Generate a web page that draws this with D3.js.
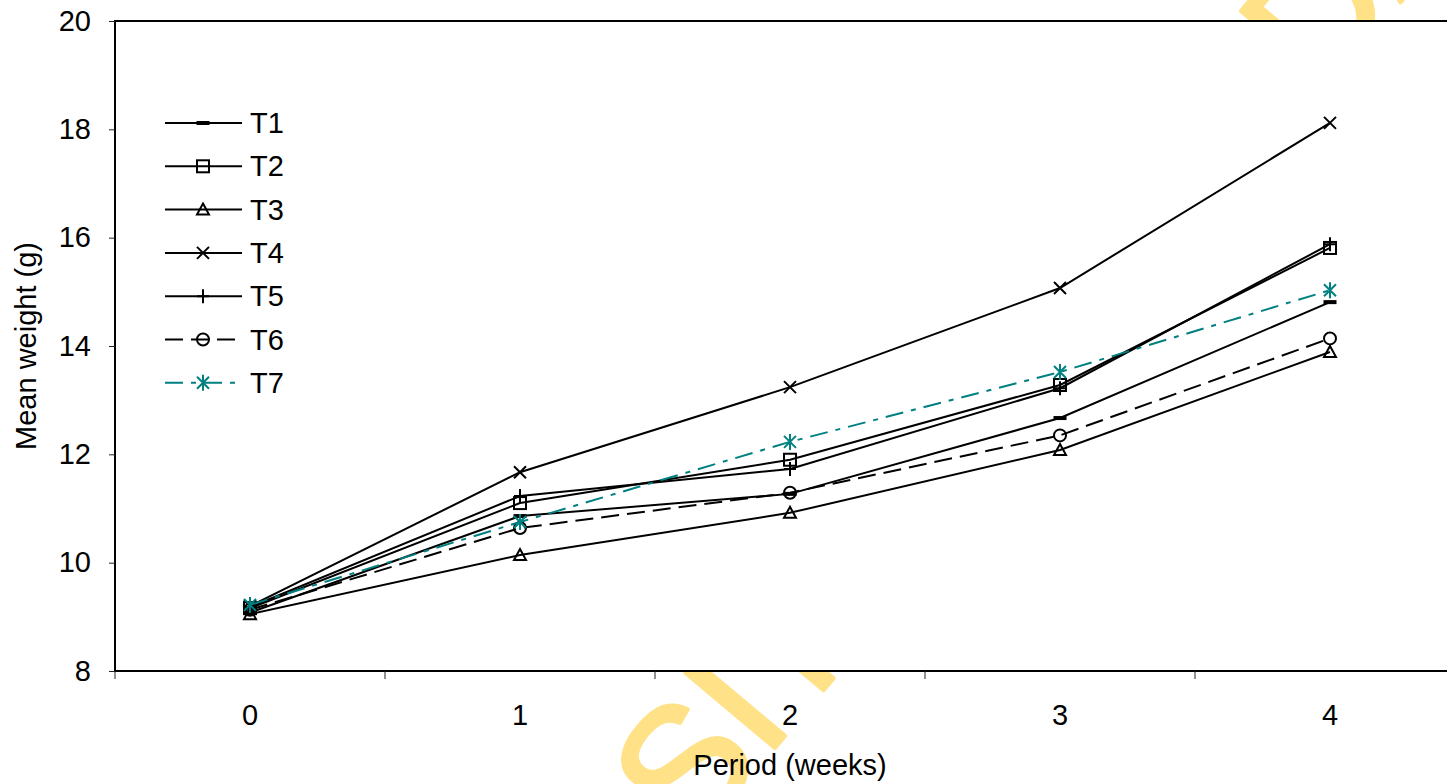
<!DOCTYPE html>
<html>
<head>
<meta charset="utf-8">
<script src="https://cdn.jsdelivr.net/npm/d3@7"></script>
<style>
	body { margin: 0; background: #fff; }
	text { font-family: "Liberation Sans", Arial, sans-serif; }
</style>
</head>
<body>
<svg id="chart" width="1447" height="784"></svg>
<script>

// weeks on the x axis and the mean weight (g) per treatment
var weeks = ["0", "1", "2", "3", "4"];
var seriesNames = ["T1", "T2", "T3", "T4", "T5", "T6", "T7"];
var t1 = [9.08, 10.86, 11.27, 12.67, 14.81];
var t2 = [9.16, 11.10, 11.90, 13.28, 15.81];
var t3 = [9.05, 10.14, 10.92, 12.08, 13.89];
var t4 = [9.20, 11.67, 13.24, 15.07, 18.12];
var t5 = [9.18, 11.23, 11.73, 13.22, 15.88];
var t6 = [9.13, 10.64, 11.29, 12.35, 14.14];
var t7 = [9.22, 10.75, 12.23, 13.52, 15.03];
var yTicks = [8, 10, 12, 14, 16, 18, 20];
var watermarkText = "UNIVERSITY OF IBADAN LIBRARY";

var allSeries = [t1, t2, t3, t4, t5, t6, t7];
var markerTypes = ["dash", "square", "triangle", "cross", "plus", "circle", "star"];
var colours = ["#000", "#000", "#000", "#000", "#000", "#000", "#008080"];
var dashes = [null, null, null, null, null, "18,8", "18,8,5,8"];

var svg = d3.select("#chart");
var fontSize = 29;

var x = d3.scaleBand().domain(weeks).range([115, 1465]);
var y = d3.scaleLinear().domain([8, 20]).range([671, 21]);


// watermark sits behind the white plot area
var wm = svg.append("text")
			.text(watermarkText)
			.attr("font-size", 170)
			.attr("fill", "#FFE187")
			.attr("stroke", "#FFE187")
			.attr("stroke-width", 4)
			.attr("stroke-linejoin", "round");

var wmNode = wm.node();
var cStart = wmNode.getStartPositionOfChar(7);
var cEnd = wmNode.getEndPositionOfChar(7);
var cMid = (cStart.x + cEnd.x) / 2;
wm.attr("transform", "translate(780,742) rotate(-50) translate(" + (-cMid) + ",0)");


// plot area
svg.append("rect")
	.attr("x", x.range()[0])
	.attr("y", y(20))
	.attr("width", x.range()[1] - x.range()[0])
	.attr("height", y(8) - y(20))
	.attr("fill", "#fff")
	.attr("stroke", "#000")
	.attr("stroke-width", 2);


// y axis
var yAxis = svg.append("g")
				.attr("transform", "translate(" + x.range()[0] + ",0)")
				.call(d3.axisLeft(y).tickValues(yTicks).tickSize(6).tickPadding(18));

yAxis.select(".domain").remove();
yAxis.selectAll("line").attr("stroke", "#222");
yAxis.selectAll("text")
	.attr("font-size", fontSize)
	.attr("font-family", "Liberation Sans, Arial, sans-serif")
	.attr("fill", "#000");


// x axis, labels in the middle of each band
var xAxis = svg.append("g")
				.attr("transform", "translate(0," + y(8) + ")")
				.call(d3.axisBottom(x).tickSize(0).tickPadding(33));

xAxis.select(".domain").remove();
xAxis.selectAll("text")
	.attr("font-size", fontSize)
	.attr("font-family", "Liberation Sans, Arial, sans-serif")
	.attr("fill", "#000");

// tick marks between the bands
svg.append("g")
	.selectAll("line")
	.data(weeks)
	.enter().append("line")
	.attr("x1", function(d) { return x(d); })
	.attr("x2", function(d) { return x(d); })
	.attr("y1", y(8))
	.attr("y2", y(8) + 8)
	.attr("stroke", "#222")
	.attr("stroke-width", 1);


// axis titles
svg.append("text")
	.attr("transform", "translate(36," + ((y(8) + y(20)) / 2) + ") rotate(-90)")
	.attr("text-anchor", "middle")
	.attr("font-size", fontSize)
	.text("Mean weight (g)");

svg.append("text")
	.attr("x", 790)
	.attr("y", 775)
	.attr("text-anchor", "middle")
	.attr("font-size", fontSize)
	.text("Period (weeks)");


function drawMarker(g, type, colour) {

	if (type == "dash") {
		g.append("rect")
			.attr("x", -6.5).attr("y", -2)
			.attr("width", 13).attr("height", 4)
			.attr("fill", colour);
		return;
	}

	var m = g.append("g")
				.attr("fill", "none")
				.attr("stroke", colour)
				.attr("stroke-width", 2);

	if (type == "square") {
		m.append("rect").attr("x", -6).attr("y", -6).attr("width", 12).attr("height", 12);
	}
	else if (type == "triangle") {
		m.append("path").attr("d", "M0,-6L6,5L-6,5Z");
	}
	else if (type == "cross") {
		m.append("path").attr("d", "M-6,-6L6,6M-6,6L6,-6");
	}
	else if (type == "plus") {
		m.append("path").attr("d", "M0,-7L0,7M-6,0L6,0");
	}
	else if (type == "circle") {
		m.append("circle").attr("r", 6);
	}
	else if (type == "star") {
		m.append("path").attr("d", "M-6,-6L6,6M-6,6L6,-6M0,-8L0,8");
	}
}


// series lines and markers
var line = d3.line()
			.x(function(d, i) { return x(weeks[i]) + x.bandwidth() / 2; })
			.y(function(d) { return y(d); });

allSeries.forEach(function(values, s) {

	svg.append("path")
		.datum(values)
		.attr("d", line)
		.attr("fill", "none")
		.attr("stroke", colours[s])
		.attr("stroke-width", 2)
		.attr("stroke-dasharray", dashes[s]);

	svg.append("g")
		.selectAll("g")
		.data(values)
		.enter().append("g")
		.attr("transform", function(d, i) {
			return "translate(" + (x(weeks[i]) + x.bandwidth() / 2) + "," + y(d) + ")"; })
		.each(function() { drawMarker(d3.select(this), markerTypes[s], colours[s]); });
});


// legend
var legend = svg.append("g")
				.selectAll("g")
				.data(seriesNames)
				.enter().append("g")
				.attr("transform", function(d, i) { return "translate(0," + (123 + i * 43.3) + ")"; });

legend.append("line")
	.attr("x1", 165).attr("x2", 242)
	.attr("stroke", function(d, i) { return colours[i]; })
	.attr("stroke-width", 2)
	.attr("stroke-dasharray", function(d, i) { return dashes[i]; });

legend.append("g")
	.attr("transform", "translate(203,0)")
	.each(function(d, i) { drawMarker(d3.select(this), markerTypes[i], colours[i]); });

legend.append("text")
	.attr("x", 250)
	.attr("dy", "0.35em")
	.attr("font-size", fontSize)
	.text(function(d) { return d; });

</script>
</body>
</html>
